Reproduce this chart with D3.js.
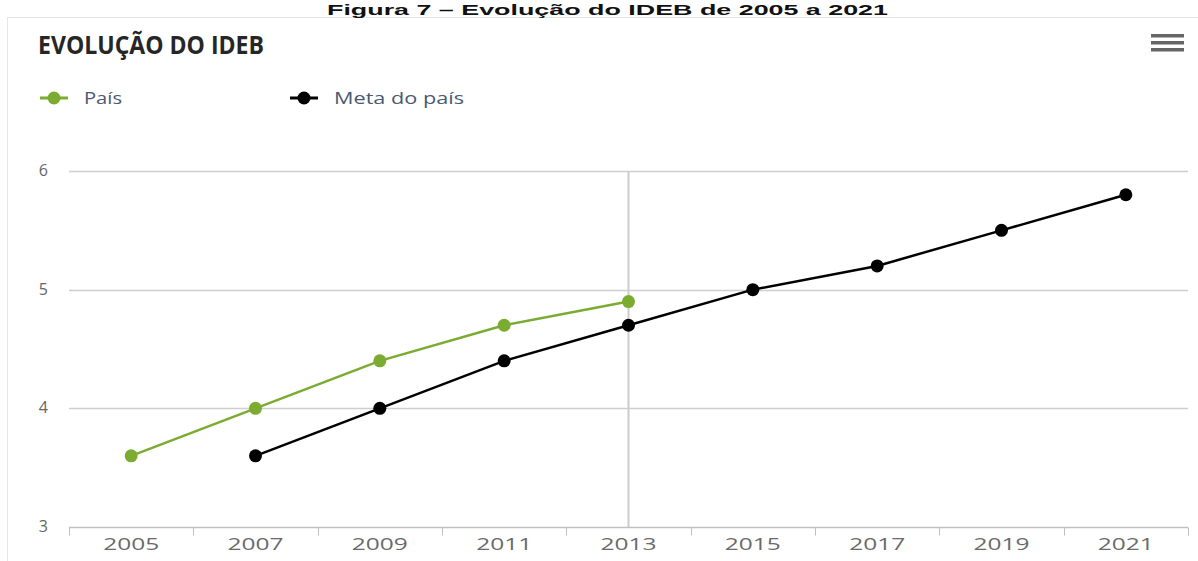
<!DOCTYPE html>
<html>
<head>
<meta charset="utf-8">
<script src="https://cdn.jsdelivr.net/npm/d3@7"></script>
<style>
  html, body { margin: 0; padding: 0; background: #fff; }
  svg { display: block; }
</style>
</head>
<body>
<svg id="chart" width="1198" height="561"></svg>
<script>
const years = ["2005", "2007", "2009", "2011", "2013", "2015", "2017", "2019", "2021"];
const paisValues = [3.6, 4.0, 4.4, 4.7, 4.9, null, null, null, null];
const metaValues = [null, 3.6, 4.0, 4.4, 4.7, 5.0, 5.2, 5.5, 5.8];
const yTicks = [3, 4, 5, 6];
const seriesNames = ["País", "Meta do país"];
const seriesColors = ["#7cab32", "#000000"];

const svg = d3.select("#chart");
const W = 1198, H = 561;
const m = { left: 69, right: 10, top: 171, bottom: 34 };

// chart box
svg.append("rect")
  .attr("x", 7.5).attr("y", 17.5)
  .attr("width", W - 7).attr("height", H)
  .attr("fill", "#fff")
  .attr("stroke", "#e6e6e6");

// Caption
svg.append("text")
  .attr("x", 327).attr("y", 15)
  .attr("font-family", "Liberation Sans, Arial, sans-serif")
  .attr("font-weight", "bold")
  .attr("font-size", 15.5)
  .attr("textLength", 561)
  .attr("lengthAdjust", "spacingAndGlyphs")
  .attr("fill", "#111")
  .text("Figura 7 – Evolução do IDEB de 2005 a 2021");

// Title
svg.append("text")
  .attr("x", 38).attr("y", 54)
  .attr("font-family", "Open Sans, sans-serif")
  .attr("font-weight", "bold")
  .attr("font-size", 25)
  .attr("textLength", 226)
  .attr("lengthAdjust", "spacingAndGlyphs")
  .attr("fill", "#262626")
  .text("EVOLUÇÃO DO IDEB");

// Menu icon
[0, 1, 2].forEach(i => {
  svg.append("rect")
    .attr("x", 1151).attr("y", 34 + i * 7)
    .attr("width", 33).attr("height", 3.5)
    .attr("fill", "#666");
});

const x = d3.scaleBand().domain(years).range([m.left, W - m.right]);
const y = d3.scaleLinear().domain([3, 6]).range([H - m.bottom, m.top]);

// gridlines
svg.append("g")
  .selectAll("line")
  .data(yTicks.filter(t => t !== 3))
  .join("line")
  .attr("x1", m.left).attr("x2", W - m.right)
  .attr("y1", d => Math.round(y(d)) + 0.5).attr("y2", d => Math.round(y(d)) + 0.5)
  .attr("stroke", "#cfcfcf").attr("stroke-width", 1.3);

// y labels
svg.append("g")
  .selectAll("text")
  .data(yTicks)
  .join("text")
  .attr("x", 48).attr("y", d => y(d) + 5)
  .attr("text-anchor", "end")
  .attr("font-family", "Open Sans, sans-serif")
  .attr("font-size", 16)
  .attr("fill", "#666")
  .text(d => d);

// crosshair at 2013
svg.append("line")
  .attr("x1", x("2013") + x.bandwidth() / 2).attr("x2", x("2013") + x.bandwidth() / 2)
  .attr("y1", y(6)).attr("y2", y(3))
  .attr("stroke", "#cccccc").attr("stroke-width", 2);

// x axis
const xAxis = d3.axisBottom(x).tickSize(0).tickPadding(10);
const gx = svg.append("g")
  .attr("transform", `translate(0,${Math.round(y(3)) + 0.5})`)
  .call(xAxis);
gx.select(".domain").attr("stroke", "#c0c0c0").attr("stroke-width", 1.3)
  .attr("d", `M${m.left},0H${W - m.right}`);
gx.selectAll("text")
  .attr("font-family", "Open Sans, sans-serif")
  .attr("font-size", 17)
  .attr("textLength", 56)
  .attr("lengthAdjust", "spacingAndGlyphs")
  .attr("fill", "#6a6a6a");
// tick marks between categories
const bounds = years.map(d => x(d)).concat([W - m.right]);
gx.selectAll(".sep")
  .data(bounds)
  .join("line")
  .attr("class", "sep")
  .attr("x1", d => Math.round(d) + 0.5).attr("x2", d => Math.round(d) + 0.5)
  .attr("y1", 0).attr("y2", 8)
  .attr("stroke", "#c0c0c0").attr("stroke-width", 1);

// series
const allSeries = [paisValues, metaValues];
allSeries.forEach((vals, si) => {
  const pts = years.map((yr, i) => ({ yr, v: vals[i] })).filter(p => p.v !== null);
  const line = d3.line()
    .x(p => x(p.yr) + x.bandwidth() / 2)
    .y(p => y(p.v));
  svg.append("path")
    .datum(pts)
    .attr("d", line)
    .attr("fill", "none")
    .attr("stroke", seriesColors[si])
    .attr("stroke-width", 2.5);
  svg.append("g")
    .selectAll("circle")
    .data(pts)
    .join("circle")
    .attr("cx", p => x(p.yr) + x.bandwidth() / 2)
    .attr("cy", p => y(p.v))
    .attr("r", 6.5)
    .attr("fill", seriesColors[si]);
});

// legend
const legendX = [40, 290];
const legendW = [38, 130];
seriesNames.forEach((name, i) => {
  const g = svg.append("g").attr("transform", `translate(${legendX[i]},98)`);
  g.append("line").attr("x1", 0).attr("x2", 28).attr("y1", 0).attr("y2", 0)
    .attr("stroke", seriesColors[i]).attr("stroke-width", 3);
  g.append("circle").attr("cx", 14).attr("cy", 0).attr("r", 6.5).attr("fill", seriesColors[i]);
  g.append("text")
    .attr("x", 44).attr("y", 6)
    .attr("font-family", "Open Sans, sans-serif")
    .attr("font-size", 17)
    .attr("textLength", legendW[i])
    .attr("lengthAdjust", "spacingAndGlyphs")
    .attr("fill", "#4a5872")
    .text(name);
});
</script>
</body>
</html>
